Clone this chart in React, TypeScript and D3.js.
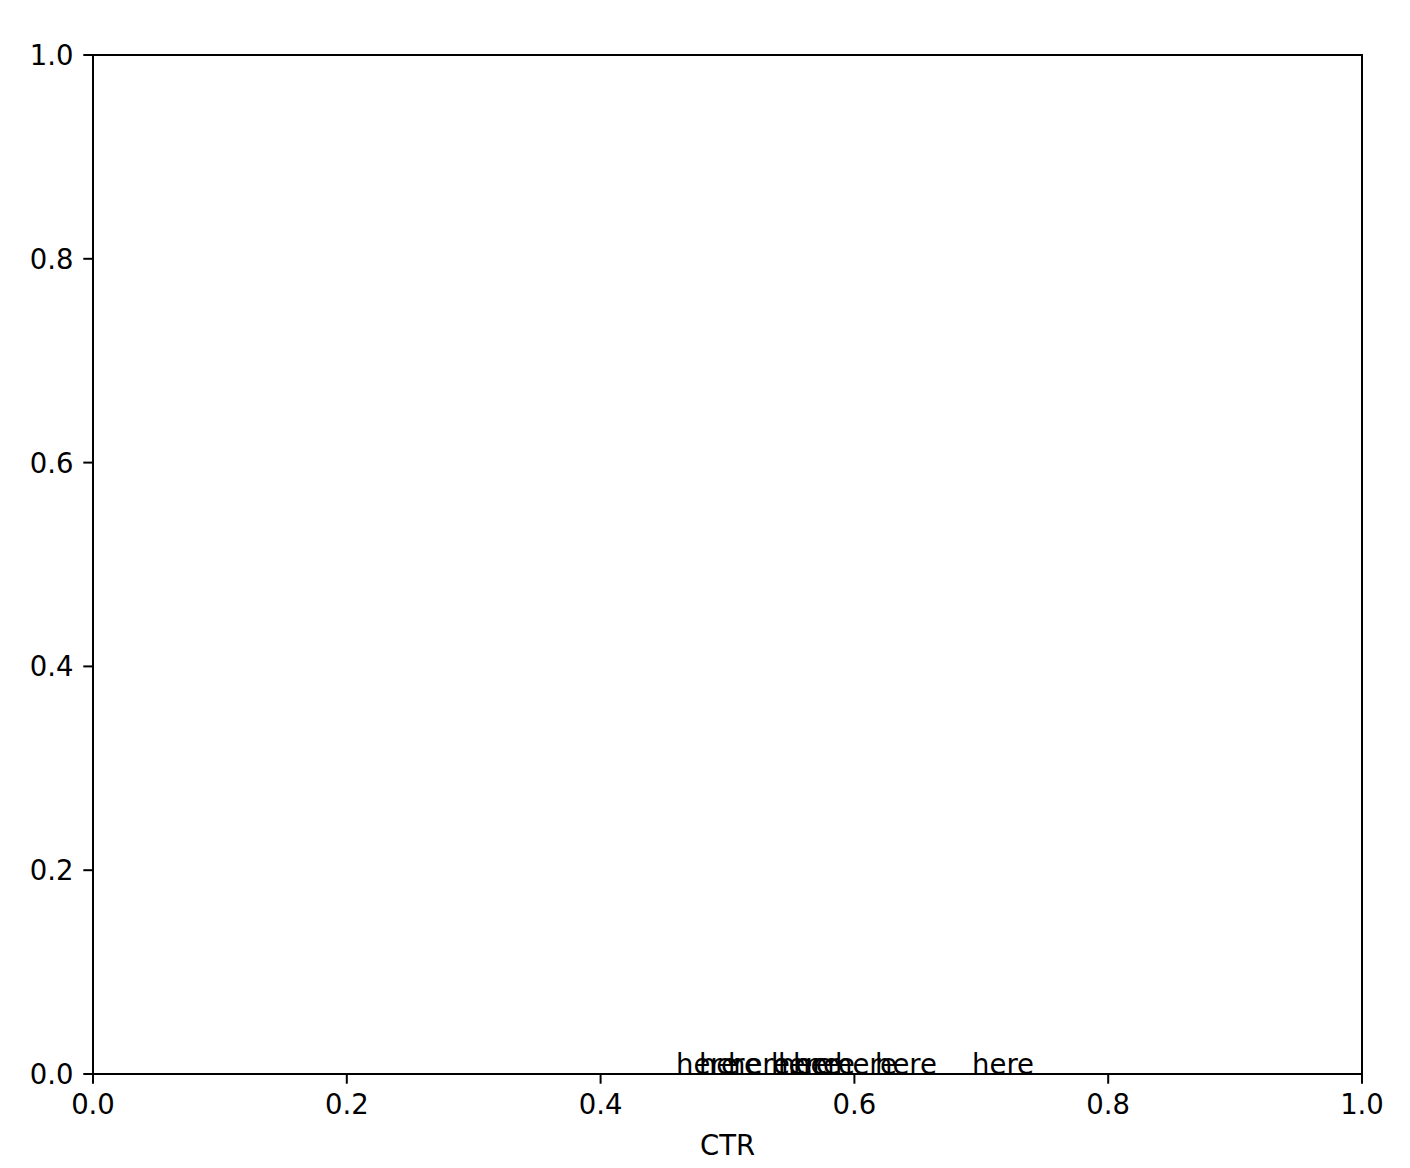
import React from "react";
import * as d3 from "d3";

const labelText: string[] = ["here", "here", "here", "here", "here", "here", "here", "here", "here"];
const labelX: number[] = [0.4594, 0.4775, 0.5004, 0.5343, 0.5398, 0.5516, 0.5847, 0.6162, 0.6927];
const labelY: number[] = [0, 0, 0, 0, 0, 0, 0, 0, 0];
const xTicks: number[] = [0, 0.2, 0.4, 0.6, 0.8, 1.0];
const yTicks: number[] = [0, 0.2, 0.4, 0.6, 0.8, 1.0];
const xLabel = "CTR";

const W = 1410;
const H = 1168;
const M = { left: 93, right: 1362, top: 55, bottom: 1074 };
const FONT = "DejaVu Sans";
const FS = 27.5;
const TICK = 9.7;
const PAD = 9.7;

export default function App() {
  const x = d3.scaleLinear().domain([0, 1]).range([M.left, M.right]);
  const y = d3.scaleLinear().domain([0, 1]).range([M.bottom, M.top]);
  return (
    <svg
      width={W}
      height={H}
      style={{ position: "absolute", left: 0, top: 0, background: "#fff" }}
      fontFamily={FONT}
      fontSize={FS}
    >
      <rect x={0} y={0} width={W} height={H} fill="#fff" />
      {labelX.map((v, i) => (
        <text key={"l" + i} x={x(v)} y={y(labelY[i])} fill="#000">
          {labelText[i]}
        </text>
      ))}
      <rect
        x={M.left}
        y={M.top}
        width={M.right - M.left}
        height={M.bottom - M.top}
        fill="none"
        stroke="#000"
        strokeWidth={2}
      />
      {xTicks.map((t) => (
        <g key={"x" + t}>
          <line x1={x(t)} x2={x(t)} y1={M.bottom} y2={M.bottom + TICK} stroke="#000" strokeWidth={2} />
          <text x={x(t)} y={M.bottom + TICK + PAD} textAnchor="middle" dominantBaseline="hanging" fill="#000">
            {d3.format(".1f")(t)}
          </text>
        </g>
      ))}
      {yTicks.map((t) => (
        <g key={"y" + t}>
          <line x1={M.left - TICK} x2={M.left} y1={y(t)} y2={y(t)} stroke="#000" strokeWidth={2} />
          <text x={M.left - TICK - PAD} y={y(t)} textAnchor="end" dominantBaseline="central" fill="#000">
            {d3.format(".1f")(t)}
          </text>
        </g>
      ))}
      <text x={(M.left + M.right) / 2} y={1155} textAnchor="middle" fill="#000">
        {xLabel}
      </text>
    </svg>
  );
}
